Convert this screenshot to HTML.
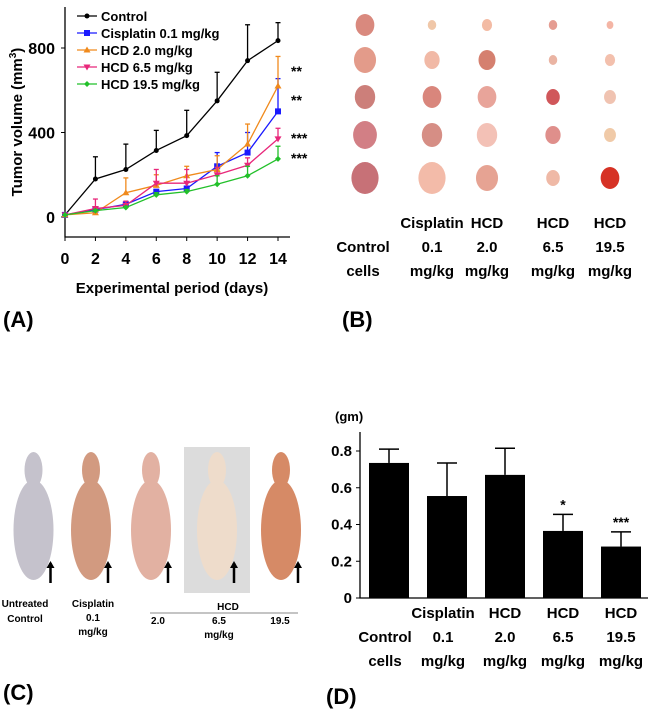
<!DOCTYPE html>
<html><head><meta charset="utf-8"><style>
body{margin:0;background:#fff;}
svg{display:block;font-family:"Liberation Sans",sans-serif;}
.b{font-weight:bold;}
</style></head><body>
<svg id="s" width="650" height="719" viewBox="0 0 650 719">
<g id="A"></g>
<g id="B"></g>
<g id="C"></g>
<g id="D"></g>
</svg>
<script>
// Panel A data
const days=[0,2,4,6,8,10,12,14];
const seriesNames=["Control","Cisplatin 0.1 mg/kg","HCD 2.0 mg/kg","HCD 6.5 mg/kg","HCD 19.5 mg/kg"];
const control=[10,180,225,315,385,550,740,835];
const controlErr=[10,285,345,410,505,685,910,920];
const cisplatin=[10,35,60,120,135,240,305,500];
const cisplatinErr=[10,40,70,130,145,305,400,655];
const hcd20=[10,20,115,150,195,225,345,620];
const hcd20Err=[10,30,185,200,240,290,440,760];
const hcd65=[10,40,55,160,160,200,245,370];
const hcd65Err=[10,85,75,225,225,235,280,420];
const hcd195=[10,30,45,105,120,155,195,275];
const hcd195Err=[10,35,50,115,130,195,240,335];
const yTicksA=[0,400,800];
const sigA=["**","**","***","***"];
// Panel D data
const barCats=[["","Control","cells"],["Cisplatin","0.1","mg/kg"],["HCD","2.0","mg/kg"],["HCD","6.5","mg/kg"],["HCD","19.5","mg/kg"]];
const barVals=[0.735,0.555,0.67,0.365,0.28];
const barErr=[0.81,0.735,0.815,0.455,0.36];
const barSig=["","","","*","***"];
const yTicksD=[0,0.2,0.4,0.6,0.8];

const NS="http://www.w3.org/2000/svg";
function mk(p,t,a,txt){const e=document.createElementNS(NS,t);for(const k in a)e.setAttribute(k,a[k]);if(txt!==undefined)e.textContent=txt;p.appendChild(e);return e;}

// ---- Panel A
const A=document.getElementById('A');
const xA=d=>65+d*(278-65)/14, yA=v=>217-v*(169/800);
let ax=mk(A,'path',{d:'M65,7V237H290',stroke:'#000','stroke-width':1.3,fill:'none'});


yTicksA.forEach(v=>{mk(A,'line',{x1:61,x2:65,y1:yA(v),y2:yA(v),stroke:'#000'});
 let t=mk(A,'text',{x:55,y:yA(v)+6,'text-anchor':'end','font-size':16,class:'b'},v);
 });
days.forEach(d=>{mk(A,'line',{x1:xA(d),x2:xA(d),y1:237,y2:241,stroke:'#000'});
 let t=mk(A,'text',{x:xA(d),y:264,'text-anchor':'middle','font-size':16,class:'b'},d);
 });
let yt=mk(A,'text',{transform:'translate(22,122) rotate(-90)','text-anchor':'middle','font-size':15,class:'b'});
yt.innerHTML='Tumor volume (mm<tspan dy="-6" font-size="10">3</tspan><tspan dy="6">)</tspan>';

let xt=mk(A,'text',{x:172,y:293,'text-anchor':'middle','font-size':15,class:'b'},'Experimental period (days)');

const ser=[[control,controlErr,'#000','circle'],[cisplatin,cisplatinErr,'#1a1aff','square'],[hcd20,hcd20Err,'#f08a1c','tri'],[hcd65,hcd65Err,'#e8277a','itri'],[hcd195,hcd195Err,'#22c02a','dia']];
function marker(g,x,y,c,s){
 if(s==='circle')return mk(g,'circle',{cx:x,cy:y,r:2.5,fill:c});
 if(s==='square')return mk(g,'rect',{x:x-3,y:y-3,width:6,height:6,fill:c});
 if(s==='tri')return mk(g,'path',{d:`M${x},${y-3.5}L${x+3.5},${y+2.5}L${x-3.5},${y+2.5}Z`,fill:c});
 if(s==='itri')return mk(g,'path',{d:`M${x},${y+3.5}L${x+3.5},${y-2.5}L${x-3.5},${y-2.5}Z`,fill:c});
 return mk(g,'path',{d:`M${x},${y-3}L${x+3},${y}L${x},${y+3}L${x-3},${y}Z`,fill:c});}
ser.forEach((s,i)=>{
 const g=mk(A,'g',{});
 
 s[0].forEach((v,j)=>{if(s[1][j]>v){mk(g,'line',{x1:xA(days[j]),x2:xA(days[j]),y1:yA(v),y2:yA(s[1][j]),stroke:s[2],'stroke-width':1.3});
  mk(g,'line',{x1:xA(days[j])-2.5,x2:xA(days[j])+2.5,y1:yA(s[1][j]),y2:yA(s[1][j]),stroke:s[2],'stroke-width':1.3});}});
 mk(g,'polyline',{points:s[0].map((v,j)=>xA(days[j])+','+yA(v)).join(' '),fill:'none',stroke:s[2],'stroke-width':1.3});
 s[0].forEach((v,j)=>marker(g,xA(days[j]),yA(v),s[2],s[3]));
 const ly=16+i*17;
 const lg=mk(A,'g',{});
 
 mk(lg,'line',{x1:77,x2:97,y1:ly,y2:ly,stroke:s[2],'stroke-width':1.3});marker(lg,87,ly,s[2],s[3]);
 mk(lg,'text',{x:101,y:ly+5,'font-size':13,class:'b'},seriesNames[i]);
});
[68,97,135,155].forEach((y,i)=>{let t=mk(A,'text',{x:291,y:y+8,'font-size':14,class:'b'},sigA[i]);
 });
let la=mk(A,'text',{x:3,y:327,'font-size':22,class:'b'},'(A)');

// ---- Panel B
const B=document.getElementById('B');
const cx=[365,432,487,553,610], ry=[25,60,97,135,178];
const sz=[[11,13,12,14,16],[5,9,11,12,16],[6,10,11,12,13],[5,5,8,9,8],[4,6,7,7,11]];
const col=[['#d9897e','#e39b8a','#cc7f7a','#d27f85','#c77177'],['#f0c7a8','#f1b9a6','#d9867c','#d68e85','#f3bba9'],['#f3bba4','#d5806f','#e8a49a','#f3c1b6','#e6a393'],['#e59d92','#eab4a3','#d0575a','#df8f8b','#efb9a6'],['#f4b5a5','#f3c0ad','#f0c3b1','#f0caa8','#d63225']];
cx.forEach((x,c)=>ry.forEach((y,r)=>{let e=mk(B,'ellipse',{cx:x,cy:y,rx:sz[c][r]*0.85,ry:sz[c][r],fill:col[c][r]});
 }));
const bl=[["","Control","cells"],["Cisplatin","0.1","mg/kg"],["HCD","2.0","mg/kg"],["HCD","6.5","mg/kg"],["HCD","19.5","mg/kg"]];
bl.forEach((l,i)=>l.forEach((t,k)=>{let e=mk(B,'text',{x:cx[i]+(i==0?-2:0),y:228+k*24,'text-anchor':'middle','font-size':15,class:'b'},t);
 }));
let lb=mk(B,'text',{x:342,y:327,'font-size':22,class:'b'},'(B)');

// ---- Panel C
const C=document.getElementById('C');
const mice=[[5,62,'#fff','#c5c2cc'],[65,117,'#fff','#d29a80'],[120,182,'#fff','#e2b1a2'],[184,250,'#dcdcdc','#eedccb'],[250,312,'#fff','#d68a66']];
mice.forEach(m=>{let g=mk(C,'g',{});
 mk(g,'rect',{x:m[0],y:447,width:m[1]-m[0],height:146,fill:m[2]});
 const c=(m[0]+m[1])/2;
 mk(g,'ellipse',{cx:c,cy:470,rx:9,ry:18,fill:m[3]});
 mk(g,'ellipse',{cx:c,cy:530,rx:20,ry:50,fill:m[3]});
 mk(g,'path',{d:`M${c+17},${563}v20`,stroke:'#000','stroke-width':2.5});
 mk(g,'path',{d:`M${c+13},${568}l4,-7l4,7z`,fill:'#000'});});
[["Untreated",25,607],["Control",25,622],["Cisplatin",93,607],["0.1",93,621],["mg/kg",93,635],["HCD",228,610],["2.0",158,624],["6.5",219,624],["19.5",280,624],["mg/kg",219,638]].forEach(t=>{
 let e=mk(C,'text',{x:t[1],y:t[2],'text-anchor':'middle','font-size':10,class:'b'},t[0]);
 });
mk(C,'line',{x1:150,x2:298,y1:613,y2:613,stroke:'#888'});
let lc=mk(C,'text',{x:3,y:700,'font-size':22,class:'b'},'(C)');

// ---- Panel D
const D=document.getElementById('D');
const xD=i=>389+i*58, yD=v=>598-v*(147/0.8);
mk(D,'path',{d:'M360,432V598H648',stroke:'#000','stroke-width':1.3,fill:'none'});
yTicksD.forEach(v=>{mk(D,'line',{x1:356,x2:360,y1:yD(v),y2:yD(v),stroke:'#000'});
 let t=mk(D,'text',{x:352,y:yD(v)+5,'text-anchor':'end','font-size':15,class:'b'},v===0?'0':v.toFixed(1));
 });
let gm=mk(D,'text',{x:335,y:421,'font-size':13,class:'b'},'(gm)');
barVals.forEach((v,i)=>{
 let r=mk(D,'rect',{x:xD(i)-20,y:yD(v),width:40,height:598-yD(v),fill:'#000'});
 
 mk(D,'line',{x1:xD(i),x2:xD(i),y1:yD(v),y2:yD(barErr[i]),stroke:'#000','stroke-width':1.5});
 mk(D,'line',{x1:xD(i)-10,x2:xD(i)+10,y1:yD(barErr[i]),y2:yD(barErr[i]),stroke:'#000','stroke-width':1.5});
 if(barSig[i]){let s=mk(D,'text',{x:xD(i),y:yD(barErr[i])-5,'text-anchor':'middle','font-size':14,class:'b'},barSig[i]);
  }
 barCats[i].forEach((t,k)=>{let e=mk(D,'text',{x:xD(i)+(i==0?-4:0)+(i==1?-4:0),y:618+k*24,'text-anchor':'middle','font-size':15,class:'b'},t);
  });
});
let ld=mk(D,'text',{x:326,y:704,'font-size':22,class:'b'},'(D)');
</script>
</body></html>
